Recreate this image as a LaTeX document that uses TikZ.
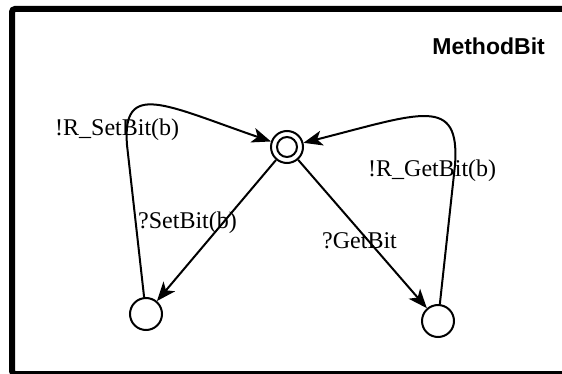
\documentclass[tikz,border=0pt]{standalone}
\usepackage{fontspec}
\setmainfont{Liberation Serif}
\newfontfamily\labsans{Liberation Sans}
\usetikzlibrary{arrows.meta}
\begin{document}
\begin{tikzpicture}[x=1pt,y=-1pt,
  state/.style={circle,draw,line width=2pt,minimum size=32pt,inner sep=0pt},
  edge/.style={line width=2pt,-{Stealth[length=19pt,width=15pt,inset=5pt]}},
  lab/.style={anchor=base west,inner sep=0pt,font=\fontsize{24}{28}\selectfont},
  title/.style={anchor=base east,inner sep=0pt,font=\labsans\bfseries\fontsize{23}{27}\selectfont}]
\useasboundingbox (0,0) rectangle (562,374);
\draw[line width=6pt,rounded corners=3pt] (12,9) rectangle (566,374);
\node[title] (t) at (545,55) {MethodBit};
\node[state] (I) at (287,147) {};
\draw[line width=2pt] (I.center) circle (10pt);
\node[state] (L) at (146,314) {};
\node[state] (R) at (438,321) {};
\coordinate (c1) at (127,145);
\coordinate (c2) at (455,165);
\draw[edge] (I) -- (L);
\draw[edge] (I) -- (R);
\draw[edge] (L) -- (c1) .. controls (122,80) and (165,105) .. (I);
\draw[edge] (R) -- (c2) .. controls (460,95) and (421,113) .. (I);
\node[lab] (l1) at (55,136) {!R\_SetBit(b)};
\node[lab] (l2) at (138,229) {?SetBit(b)};
\node[lab] (l3) at (322,248) {?GetBit};
\node[lab] (l4) at (368,177) {!R\_GetBit(b)};
\end{tikzpicture}
\end{document}
